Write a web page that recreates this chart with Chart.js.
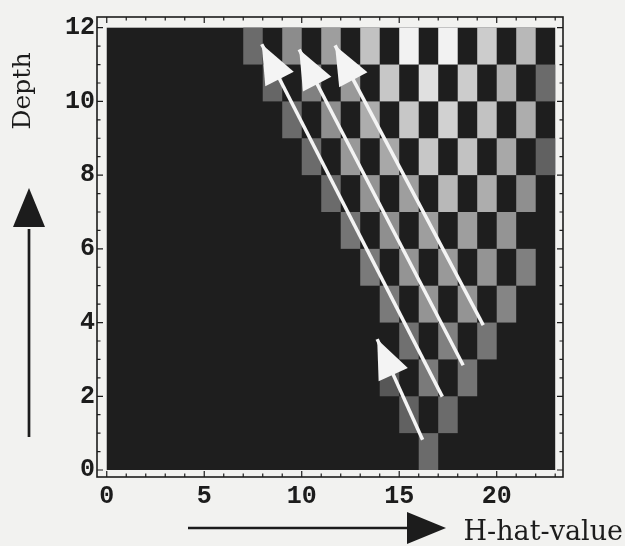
<!DOCTYPE html>
<html>
<head>
<meta charset="utf-8">
<script src="https://cdn.jsdelivr.net/npm/chart.js@4.4.0/dist/chart.umd.min.js"></script>
<style>
  html, body { margin: 0; padding: 0; background: #f2f2f0; }
  #wrap { width: 625px; height: 546px; }
</style>
</head>
<body>
<div id="wrap"><canvas id="heat" width="625" height="546"></canvas></div>
<script>
"use strict";

// ---------- data ----------
// one row per depth; lit cells sit on every 2nd H-hat value from rowStart
const depths = [0, 1, 2, 3, 4, 5, 6, 7, 8, 9, 10, 11];
const rowStart = [16, 15, 14, 15, 14, 13, 12, 11, 10, 9, 8, 7];
// brightness of each lit cell (0 = black, 1 = white)
const rowLevels = [
  [0.42],
  [0.38, 0.42],
  [0.34, 0.48, 0.46],
  [0.44, 0.5, 0.46],
  [0.48, 0.58, 0.58, 0.52],
  [0.48, 0.58, 0.6, 0.58, 0.5],
  [0.46, 0.56, 0.62, 0.62, 0.58],
  [0.42, 0.58, 0.62, 0.72, 0.68, 0.56],
  [0.42, 0.6, 0.66, 0.78, 0.76, 0.66, 0.38],
  [0.42, 0.56, 0.68, 0.78, 0.82, 0.76, 0.68],
  [0.4, 0.5, 0.6, 0.78, 0.88, 0.8, 0.7, 0.42],
  [0.42, 0.55, 0.62, 0.76, 0.95, 0.95, 0.8, 0.72],
];
const hRange = [0, 23];
const depthRange = [0, 12];

// search arrows drawn over the map: tail -> tip (H-hat, depth)
const arrowTailH = [17.21, 18.28, 19.31, 16.2];
const arrowTailD = [1.99, 2.84, 3.93, 0.82];
const arrowTipH = [7.95, 9.87, 11.71, 13.87];
const arrowTipD = [11.55, 11.41, 11.52, 3.55];

const xTickStep = 5;
const yTickStep = 2;

// ---------- build datasets ----------
const cells = [];
const cellColors = [];
depths.forEach((d, i) => {
  rowLevels[i].forEach((lv, k) => {
    const h = rowStart[i] + 2 * k;
    cells.push({ x: h + 0.5, y: [d, d + 1] });
    const g = Math.round(lv * 255);
    cellColors.push("rgb(" + g + "," + g + "," + g + ")");
  });
});

const arrowSets = arrowTailH.map((_, i) => ({
  type: "line",
  data: [
    { x: arrowTailH[i], y: arrowTailD[i] },
    { x: arrowTipH[i], y: arrowTipD[i] },
  ],
  borderColor: "#f4f4f4",
  borderWidth: 3.5,
  pointRadius: 0,
  fill: false,
  isArrow: true,
}));

const monoFont = { family: "'Liberation Mono', monospace", size: 25, weight: "bold" };
const ink = "#1c1c1c";

// ---------- plugins ----------
const paperPlugin = {
  id: "paper",
  beforeDraw(chart) {
    const c = chart.ctx;
    c.save();
    c.fillStyle = "#f2f2f0";
    c.fillRect(0, 0, chart.width, chart.height);
    c.restore();
  },
  beforeDatasetsDraw(chart) {
    const { ctx: c, scales: { x, y } } = chart;
    const l = x.getPixelForValue(hRange[0]), r = x.getPixelForValue(hRange[1]);
    const t = y.getPixelForValue(depthRange[1]), b = y.getPixelForValue(depthRange[0]);
    c.save();
    c.fillStyle = "#1e1e1e";
    c.fillRect(l, t, r - l, b - t);
    c.restore();
  },
};

const arrowHeadPlugin = {
  id: "arrowHeads",
  afterDatasetsDraw(chart) {
    const c = chart.ctx;
    c.save();
    c.fillStyle = "#f4f4f4";
    chart.data.datasets.forEach((ds, i) => {
      if (!ds.isArrow) return;
      const pts = chart.getDatasetMeta(i).data;
      const p0 = pts[0], p1 = pts[1];
      const dx = p1.x - p0.x, dy = p1.y - p0.y;
      const len = Math.hypot(dx, dy);
      const ux = dx / len, uy = dy / len;
      const hl = 39, hw = 16;
      const bx = p1.x - ux * hl, by = p1.y - uy * hl;
      c.beginPath();
      c.moveTo(p1.x, p1.y);
      c.lineTo(bx - uy * hw, by + ux * hw);
      c.lineTo(bx + uy * hw, by - ux * hw);
      c.closePath();
      c.fill();
    });
    c.restore();
  },
};

// frame with inward ticks, like the original plot
const framePlugin = {
  id: "frame",
  afterDraw(chart) {
    const { ctx: c, chartArea: a, scales: { x, y } } = chart;
    c.save();
    c.strokeStyle = ink;
    c.lineWidth = 1.6;
    c.strokeRect(a.left, a.top, a.right - a.left, a.bottom - a.top);
    c.lineWidth = 1.2;
    c.beginPath();
    for (let v = Math.ceil(x.min); v <= x.max; v++) {
      const px = x.getPixelForValue(v);
      const L = v % xTickStep === 0 ? 6 : 3.5;
      c.moveTo(px, a.bottom); c.lineTo(px, a.bottom - L);
      c.moveTo(px, a.top); c.lineTo(px, a.top + L);
    }
    for (let v = 0; v <= y.max; v += 0.5) {
      const py = y.getPixelForValue(v);
      const L = v % yTickStep === 0 ? 6 : 3.5;
      c.moveTo(a.left, py); c.lineTo(a.left + L, py);
      c.moveTo(a.right, py); c.lineTo(a.right - L, py);
    }
    c.stroke();
    c.restore();
  },
};

// axis captions with their black direction arrows
const captionPlugin = {
  id: "captions",
  afterDraw(chart) {
    const c = chart.ctx;
    const a = chart.chartArea;
    c.save();
    c.fillStyle = ink;
    c.strokeStyle = ink;
    c.lineWidth = 2.7;

    // vertical arrow (Depth)
    const vx = 29;
    c.beginPath();
    c.moveTo(vx, a.bottom - 40);
    c.lineTo(vx, a.top + 212);
    c.stroke();
    c.beginPath();
    c.moveTo(vx, a.top + 171);
    c.lineTo(vx - 16, a.top + 210);
    c.lineTo(vx + 16, a.top + 210);
    c.closePath();
    c.fill();

    // horizontal arrow (H-hat-value)
    const hy = a.bottom + 51;
    c.beginPath();
    c.moveTo(188, hy);
    c.lineTo(408, hy);
    c.stroke();
    c.beginPath();
    c.moveTo(446, hy);
    c.lineTo(407, hy - 16);
    c.lineTo(407, hy + 16);
    c.closePath();
    c.fill();

    c.font = "27px 'DejaVu Serif', serif";
    c.textAlign = "right";
    c.textBaseline = "alphabetic";
    c.fillText("H-hat-value", chart.width - 2, 540);

    c.translate(23, 91);
    c.rotate(-Math.PI / 2);
    c.font = "25px 'DejaVu Serif', serif";
    c.textAlign = "center";
    c.textBaseline = "middle";
    c.fillText("Depth", 0, 0);
    c.restore();
  },
};

// ---------- chart ----------
const ctx = document.getElementById("heat").getContext("2d");
new Chart(ctx, {
  type: "bar",
  data: {
    datasets: arrowSets.concat([
      {
        data: cells,
        backgroundColor: cellColors,
        borderWidth: 0,
        inflateAmount: 0,
        barPercentage: 1,
        categoryPercentage: 1,
      },
    ]),
  },
  options: {
    responsive: false,
    animation: false,
    events: [],
    layout: { padding: { top: 7, right: 62, left: 0, bottom: 0 } },
    plugins: { legend: { display: false }, tooltip: { enabled: false } },
    scales: {
      x: {
        type: "linear",
        min: -0.5,
        max: 23.4,
        offset: false,
        grid: { display: false, drawTicks: false },
        border: { display: false },
        ticks: {
          stepSize: xTickStep,
          includeBounds: false,
          padding: 5,
          maxRotation: 0,
          autoSkip: false,
          color: ink,
          font: monoFont,
        },
        afterFit(s) { s.height = 69; },
      },
      y: {
        type: "linear",
        min: -0.19,
        max: 12.29,
        grid: { display: false, drawTicks: false },
        border: { display: false },
        ticks: {
          stepSize: yTickStep,
          includeBounds: false,
          padding: 2,
          autoSkip: false,
          color: ink,
          font: monoFont,
        },
        afterFit(s) { s.width = 97; },
      },
    },
  },
  plugins: [paperPlugin, arrowHeadPlugin, framePlugin, captionPlugin],
});
</script>
</body>
</html>
